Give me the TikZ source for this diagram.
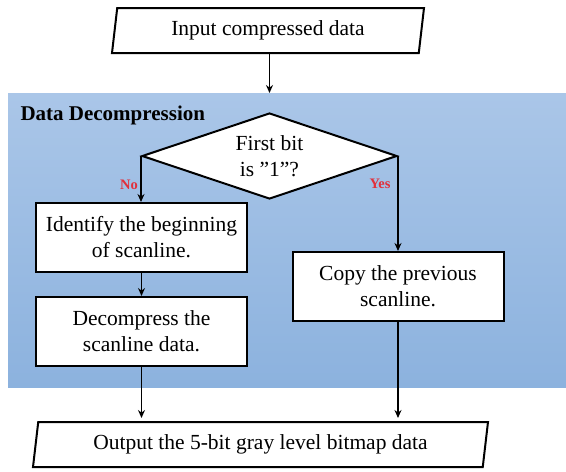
\documentclass[tikz,border=0pt]{standalone}
\usepackage{fontspec}
\setmainfont{Liberation Serif}
\usetikzlibrary{shapes.geometric,arrows.meta,positioning}
\definecolor{bandtop}{RGB}{170,198,232}
\definecolor{bandbot}{RGB}{140,178,222}
\definecolor{labelred}{RGB}{226,48,60}
\tikzset{
  flow/.style={draw=black, line width=2pt, fill=white, align=center,
    font=\fontsize{21.5}{26}\selectfont, inner sep=0pt},
  procbox/.style={flow, rectangle, minimum width=211pt, minimum height=69pt},
  iobox/.style={flow, trapezium, trapezium left angle=75, trapezium right angle=105,
    minimum height=45pt, trapezium stretches body},
  decision/.style={flow, diamond, minimum width=255pt, minimum height=86pt,
    aspect=2.95},
  arr/.style={-{Stealth[length=8pt,width=7pt]}, line width=1.8pt},
  branch/.style={text=labelred, font=\bfseries\fontsize{14.5}{16}\selectfont}
}
\begin{document}
\begin{tikzpicture}[x=1pt,y=-1pt]
  \useasboundingbox (0,0) rectangle (566,472);
  \fill[white] (0,0) rectangle (566,472);
  % shaded region of the decompression stage
  \shade[top color=bandtop, bottom color=bandbot] (8,93) rectangle (566,387);
  \node[anchor=west, font=\bfseries\fontsize{21}{24}\selectfont] (title) at (17,115) {Data Decompression};

  \node[iobox, minimum width=312pt] (in) at (268,30.5) {Input compressed data};
  \node[decision] (dec) at (269.5,156) {First bit\\is ”1”?};
  \node[procbox] (ident) at (141.5,237.5) {Identify the beginning\\of scanline.};
  \node[procbox] (decomp) at (141.5,331.5) {Decompress the\\scanline data.};
  \node[procbox] (copy) at (398,286.5) {Copy the previous\\scanline.};
  \node[iobox, minimum width=455pt] (out) at (260.5,444.5) {Output the 5-bit gray level bitmap data};

  \coordinate (outL) at (141.5,418);
  \coordinate (outR) at (398,418);

  \draw[arr] (in.south -| dec.north) -- (dec.north |- 0,93);
  \draw[arr] (dec.west) -- (dec.west |- ident.north);
  \draw[arr] (dec.east) -- (dec.east |- copy.north);
  \draw[arr] (ident) -- (decomp);
  \draw[arr] (decomp.south) -- (outL);
  \draw[arr] (copy.south) -- (outR);

  \node[branch] (no) at (129,185) {No};
  \node[branch] (yes) at (380,184) {Yes};
\end{tikzpicture}
\end{document}
